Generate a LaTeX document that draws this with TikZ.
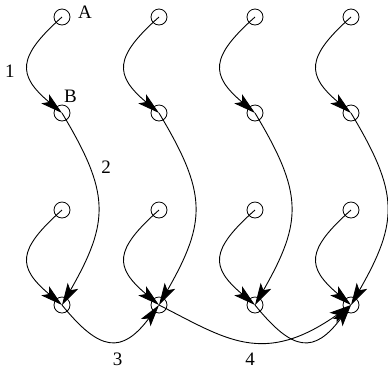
\documentclass[tikz,border=0pt]{standalone}
\usepackage{fontspec}
\setmainfont{Liberation Serif}
\usetikzlibrary{arrows.meta}
\begin{document}
\begin{tikzpicture}[x=1pt,y=-1pt,
  vtx/.style={circle,draw,line width=0.8pt,minimum size=16pt,inner sep=0pt},
  edge/.style={line width=0.9pt,-{Stealth[length=22pt,width=12pt,inset=5pt]}},
  lbl/.style={font=\fontsize{19}{22}\selectfont,inner sep=0pt,anchor=base}]
\useasboundingbox (0,0) rectangle (388,368);
% four identical columns of vertices with their local edges
\foreach \i/\x in {1/62,2/159,3/255,4/351}{
  \node[vtx] (t\i) at (\x,17) {};
  \node[vtx] (m\i) at (\x,113) {};
  \node[vtx] (l\i) at (\x,210) {};
  \node[vtx] (b\i) at (\x,305) {};
  \draw[edge] (t\i.center) .. controls +(-45,40) and +(-45,-38) .. (m\i.center);
  \draw[edge] (m\i.center) .. controls +(48,80) and +(48,-84) .. (b\i.center);
  \draw[edge] (l\i.center) .. controls +(-45,40) and +(-45,-38) .. (b\i.center);
}
% edges along the bottom row
\draw[edge] (b1.center) .. controls +(38,47) and +(-37,49) .. (b2.center);
\draw[edge] (b3.center) .. controls +(38,47) and +(-37,49) .. (b4.center);
\draw[edge] (b2.center) .. controls +(67,34) and +(-88,62) .. (b4.center);
% labels
\node[lbl] (la) at (85,18.3) {A};
\node[lbl] (lb) at (70.5,102) {B};
\node[lbl] (l1) at (10,77.7) {1};
\node[lbl] (l2) at (106,173) {2};
\node[lbl] (l3) at (117.5,365) {3};
\node[lbl] (l4) at (250,365) {4};
\end{tikzpicture}
\end{document}
